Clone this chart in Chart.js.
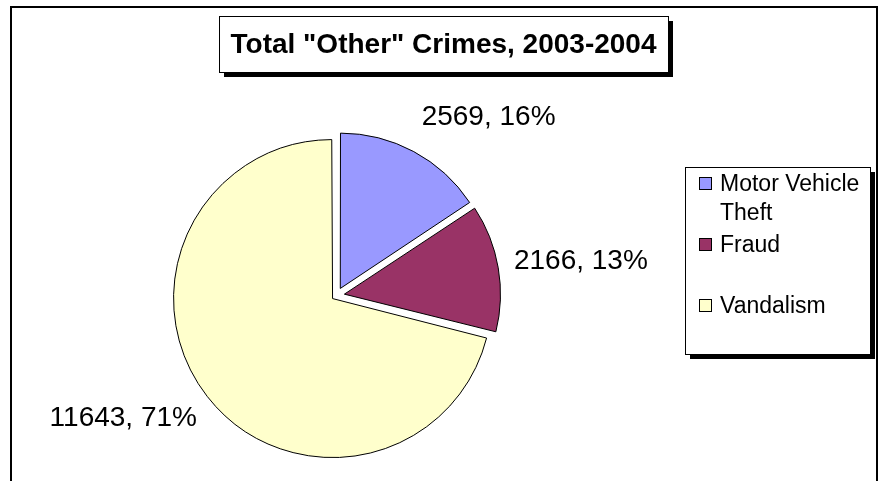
<!DOCTYPE html>
<html>
<head>
<meta charset="utf-8">
<script src="https://cdn.jsdelivr.net/npm/chart.js@4.4.1/dist/chart.umd.min.js"></script>
<style>
  html, body { margin: 0; padding: 0; background: #fff; }
</style>
</head>
<body>
<canvas id="crimes" width="878" height="481"></canvas>
<script>
// Data ----------------------------------------------------------------------
const chartTitle = 'Total "Other" Crimes, 2003-2004';
const categories = ["Motor Vehicle Theft", "Fraud", "Vandalism"];
const counts = [2569, 2166, 11643];
const sliceColors = ["#9999FF", "#993366", "#FFFFCC"];
const sliceOffsets = [32, 32, 20];

const FONT = '"Liberation Sans", Arial, sans-serif';
const total = counts.reduce((a, b) => a + b, 0);

function wrapText(ctx, text, maxWidth) {
  const words = text.split(" ");
  const lines = [];
  let line = "";
  words.forEach((w) => {
    const test = line ? line + " " + w : w;
    if (line && ctx.measureText(test).width > maxWidth) {
      lines.push(line);
      line = w;
    } else {
      line = test;
    }
  });
  lines.push(line);
  return lines;
}

function shadowBox(ctx, x, y, w, h, shadow) {
  ctx.fillStyle = "#000";
  ctx.fillRect(x + shadow, y + shadow, w, h);
  ctx.fillStyle = "#fff";
  ctx.fillRect(x, y, w, h);
  ctx.strokeStyle = "#000";
  ctx.lineWidth = 1;
  ctx.strokeRect(x + 0.5, y + 0.5, w, h);
}

// Excel-style frame, title box, legend and outside labels ------------------
const excelLook = {
  id: "excelLook",
  beforeDraw(chart) {
    const ctx = chart.ctx;
    ctx.save();
    ctx.fillStyle = "#fff";
    ctx.fillRect(0, 0, chart.width, chart.height);
    ctx.strokeStyle = "#000";
    ctx.lineWidth = 2;
    ctx.strokeRect(11, 7, 866, 500);
    ctx.restore();
  },
  afterDraw(chart) {
    const ctx = chart.ctx;
    ctx.save();

    // title
    ctx.font = "bold 28px " + FONT;
    const tw = ctx.measureText(chartTitle).width;
    const boxW = tw + 23;
    shadowBox(ctx, 443.5 - boxW / 2, 16, boxW, 56, 5);
    ctx.fillStyle = "#000";
    ctx.textAlign = "center";
    ctx.textBaseline = "middle";
    ctx.fillText(chartTitle, 443.5, 45);

    // slice labels
    ctx.font = "28px " + FONT;
    const meta = chart.getDatasetMeta(0);
    meta.data.forEach((arc, i) => {
      const mid = (arc.startAngle + arc.endAngle) / 2;
      const cos = Math.cos(mid), sin = Math.sin(mid);
      const r = arc.outerRadius + arc.options.offset / 4 + 12;
      const px = arc.x + cos * r, py = arc.y + sin * r;
      const pct = Math.round((counts[i] / total) * 100);
      ctx.textAlign = cos >= 0 ? "left" : "right";
      ctx.fillText(counts[i] + ", " + pct + "%", px + cos * 6, py + sin * 28);
    });

    // legend
    shadowBox(ctx, 685, 167, 185, 187, 5);
    ctx.font = "23px " + FONT;
    ctx.textAlign = "left";
    categories.forEach((name, i) => {
      const rowY = 184 + i * 61;
      ctx.fillStyle = sliceColors[i];
      ctx.fillRect(699.5, rowY - 6.5, 12, 12);
      ctx.strokeStyle = "#000";
      ctx.lineWidth = 1;
      ctx.strokeRect(699.5, rowY - 6.5, 12, 12);
      ctx.fillStyle = "#000";
      wrapText(ctx, name, 148).forEach((ln, j) => {
        ctx.fillText(ln, 720, rowY + 1 + j * 29);
      });
    });

    ctx.restore();
  },
};

new Chart(document.getElementById("crimes"), {
  type: "pie",
  data: {
    labels: categories,
    datasets: [
      {
        data: counts,
        backgroundColor: sliceColors,
        borderColor: "#000",
        borderWidth: 1,
        offset: sliceOffsets,
      },
    ],
  },
  options: {
    responsive: false,
    animation: false,
    layout: {
      padding: { left: 150, right: 355, top: 125, bottom: 15 },
    },
    plugins: {
      legend: { display: false },
      title: { display: false },
      tooltip: { enabled: false },
    },
  },
  plugins: [excelLook],
});
</script>
</body>
</html>
